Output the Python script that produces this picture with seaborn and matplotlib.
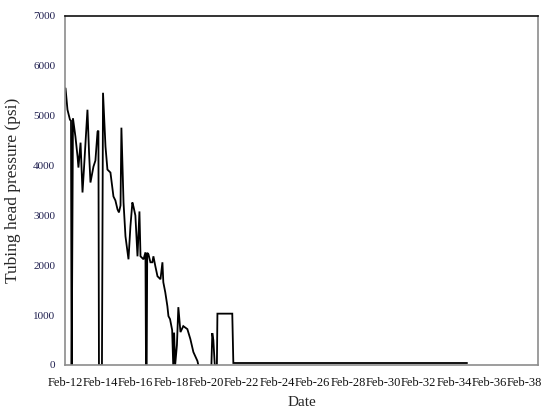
import numpy as np
import pandas as pd
import matplotlib
matplotlib.use("Agg")
import matplotlib.pyplot as plt
import seaborn as sns

# Data: day of February (Excel-style serial continuing past Feb-28), pressure (psi)
days = [12.03, 12.14, 12.28, 12.34, 12.37, 12.38, 12.45, 12.59, 12.71, 12.76,
        12.88, 12.99, 13.07, 13.27, 13.36, 13.44, 13.61, 13.72, 13.84, 13.89,
        13.92, 14.09, 14.15, 14.29, 14.40, 14.57, 14.74, 14.85, 14.97, 15.05,
        15.14, 15.19, 15.31, 15.42, 15.59, 15.70, 15.81, 15.87, 15.98, 16.10,
        16.21, 16.27, 16.44, 16.55, 16.58, 16.62, 16.65, 16.72, 16.83, 16.94,
        17.00, 17.11, 17.23, 17.40, 17.51, 17.56, 17.67, 17.79, 17.85, 17.94,
        18.06, 18.12, 18.17, 18.23, 18.33, 18.41, 18.53, 18.69, 18.92, 19.09,
        19.26, 19.49, 19.54, 19.90, 20.28, 20.33, 20.39, 20.47, 20.59, 20.62,
        21.46, 21.52, 34.74]
pressure = [5550, 5120, 4920, 4900, 0, 0, 4950, 4580, 4180, 3960,
            4460, 3460, 3920, 5120, 4260, 3660, 3980, 4100, 4680, 4700,
            0, 0, 5460, 4380, 3920, 3860, 3380, 3300, 3120, 3060,
            3200, 4760, 3260, 2580, 2120, 2780, 3260, 3180, 3000, 2180,
            3080, 2180, 2120, 2260, 0, 0, 2250, 2220, 2060, 2060,
            2180, 1980, 1780, 1720, 2060, 1660, 1460, 1180, 980, 920,
            700, 0, 650, 0, 400, 1160, 660, 780, 720, 520,
            260, 80, 0, np.nan, 0, 640, 500, 0, 0, 1030,
            1030, 40, 40]

x_tick_values = [12, 14, 16, 18, 20, 22, 24, 26, 28, 30, 32, 34, 36, 38]
x_tick_labels = ["Feb-12", "Feb-14", "Feb-16", "Feb-18", "Feb-20", "Feb-22", "Feb-24",
                 "Feb-26", "Feb-28", "Feb-30", "Feb-32", "Feb-34", "Feb-36", "Feb-38"]
y_tick_values = [0, 1000, 2000, 3000, 4000, 5000, 6000, 7000]

df = pd.DataFrame({"day": days, "psi": pressure})

sns.set_style("white")
plt.rcParams["font.family"] = ["Liberation Serif", "DejaVu Serif"]

fig = plt.figure(figsize=(5.41, 4.15), dpi=100)
ax = fig.add_axes([65 / 541, 1 - 365 / 415, (538 - 65) / 541, (365 - 16) / 415])

# draw with NaN gaps preserved
ax.plot(df["day"], df["psi"], color="black", linewidth=1.3, solid_joinstyle="miter")
sns.lineplot(data=df.iloc[:0], x="day", y="psi", ax=ax)

ax.set_xlim(12, 38.75)
ax.set_ylim(0, 7000)
ax.set_xticks(x_tick_values)
ax.set_xticklabels(x_tick_labels, fontsize=9, color="#111111")
ax.set_yticks(y_tick_values)
ax.set_yticklabels([str(v) for v in y_tick_values], fontsize=8, color="#1f1f4f")
ax.tick_params(axis="x", length=0, pad=9)
ax.tick_params(axis="y", length=0, pad=7)

ax.set_xlabel("Date", fontsize=11, labelpad=5)
ax.set_ylabel("Tubing head pressure (psi)", fontsize=12.5, labelpad=9)

for side in ["left", "bottom", "right"]:
    ax.spines[side].set_color("#8c8c8c")
    ax.spines[side].set_linewidth(1.2)
ax.spines["top"].set_color("#111111")
ax.spines["top"].set_linewidth(1.2)

fig.savefig("out.png", dpi=100)
